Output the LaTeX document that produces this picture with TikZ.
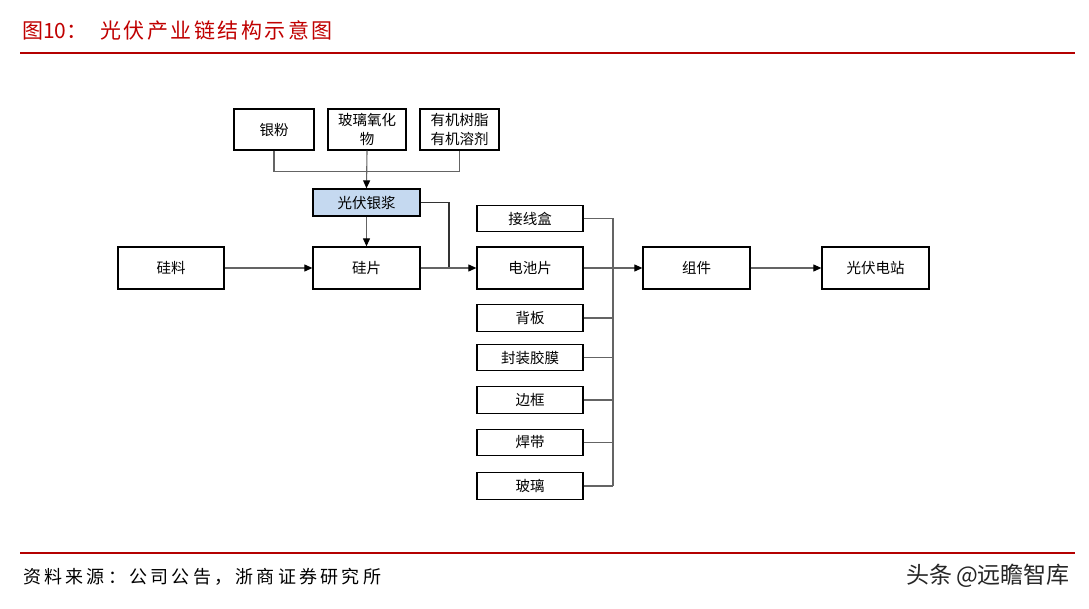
\documentclass[tikz,border=0pt]{standalone}
\usepackage{fontspec}
\setmainfont{Noto Sans CJK SC}
\newfontfamily\titlefont[LetterSpace=12]{Noto Sans CJK SC}
\newfontfamily\srcfont[LetterSpace=18]{Noto Sans CJK SC}
\usetikzlibrary{arrows.meta}
\definecolor{redline}{RGB}{180,0,0}
\definecolor{titlered}{RGB}{192,0,0}
\definecolor{connc}{RGB}{100,100,100}
\definecolor{pasteblue}{RGB}{197,217,240}
\tikzset{
  box/.style={draw=black, line width=1.3pt, fill=white, inner sep=0pt, align=center,
    font=\fontsize{14.5}{19}\selectfont},
  bigbox/.style={box, minimum width=106pt, minimum height=42pt},
  smallbox/.style={box, minimum width=106pt, minimum height=26.5pt},
  topbox/.style={box, minimum width=79pt, minimum height=41pt},
  conn/.style={draw=connc, line width=1.1pt},
  arr/.style={conn, -{Triangle[length=8pt,width=7pt,color=black]}},
}
\begin{document}
\begin{tikzpicture}[x=1pt,y=-1pt]
\useasboundingbox (0,0) rectangle (1089,609);
\fill[white] (0,0) rectangle (1089,609);
% header
\node[anchor=west, text=titlered, inner sep=0pt, font=\fontsize{21}{24}\selectfont] (figno) at (22,31) {图10：};
\node[anchor=west, text=titlered, inner sep=0pt, font=\titlefont\fontsize{21}{24}\selectfont] (title) at (100,31) {光伏产业链结构示意图};
\coordinate (tl) at (20,53.5);
\coordinate (tr) at (1075,53.5);
\draw[redline, line width=2pt] (tl) -- (tr);
% footer
\coordinate (bl) at (20,553);
\coordinate (br) at (1075,553);
\draw[redline, line width=2pt] (bl) -- (br);
\node[anchor=west, inner sep=0pt, font=\srcfont\fontsize{18}{20}\selectfont] (src) at (23,577) {资料来源：公司公告，浙商证券研究所};
\node[anchor=east, inner sep=0pt, text=black!85, font=\fontsize{23}{26}\selectfont] (wm) at (1070,576) {头条\,@远瞻智库};

% top boxes
\node[topbox, minimum width=80pt] (yinfen) at (274,129.5) {银粉};
\node[topbox, minimum width=78pt] (boli) at (367,129.5) {玻璃氧化\\物};
\node[topbox] (youji) at (459.5,129.5) {有机树脂\\有机溶剂};
\node[box, fill=pasteblue, minimum width=107pt, minimum height=27pt] (yinjiang) at (366.5,202.5) {光伏银浆};

% main row
\node[bigbox] (guiliao) at (171,268) {硅料};
\node[bigbox, minimum width=107pt] (guipian) at (366.5,268) {硅片};
\node[bigbox] (dianchi) at (530,268) {电池片};
\node[bigbox, minimum width=107pt] (zujian) at (696.5,268) {组件};
\node[bigbox, minimum width=107pt] (dianzhan) at (875.5,268) {光伏电站};

% component column
\node[smallbox] (jiexian) at (530,218.5) {接线盒};
\node[smallbox] (beiban) at (530,318) {背板};
\node[smallbox] (fengzhuang) at (530,357.5) {封装胶膜};
\node[smallbox] (biankuang) at (530,400) {边框};
\node[smallbox] (handai) at (530,442.5) {焊带};
\node[smallbox] (boli2) at (530,486) {玻璃};

% connectors: paste inputs
\draw[conn] (yinfen.south) -- ++(0,20.5) -| (youji.south);
\draw[arr] (boli.south) -- (yinjiang.north);
\draw[arr] (yinjiang.south) -- (guipian.north);
\coordinate (pastejoin) at (449,268);
\draw[conn, draw=black!80] (yinjiang.east) -| (pastejoin);

% main flow
\draw[arr] (guiliao.east) -- (guipian.west);
\draw[arr] (guipian.east) -- (dianchi.west);
\draw[arr] (dianchi.east) -- (zujian.west);
\draw[arr] (zujian.east) -- (dianzhan.west);

% bus
\coordinate (busx) at (613,0);
\draw[conn] (jiexian.east) -- (jiexian.east -| busx);
\draw[conn] (beiban.east) -- (beiban.east -| busx);
\draw[conn] (fengzhuang.east) -- (fengzhuang.east -| busx);
\draw[conn] (biankuang.east) -- (biankuang.east -| busx);
\draw[conn] (handai.east) -- (handai.east -| busx);
\draw[conn] (boli2.east) -- (boli2.east -| busx);
\draw[conn] (jiexian.east -| busx) -- (boli2.east -| busx);
\end{tikzpicture}
\end{document}
